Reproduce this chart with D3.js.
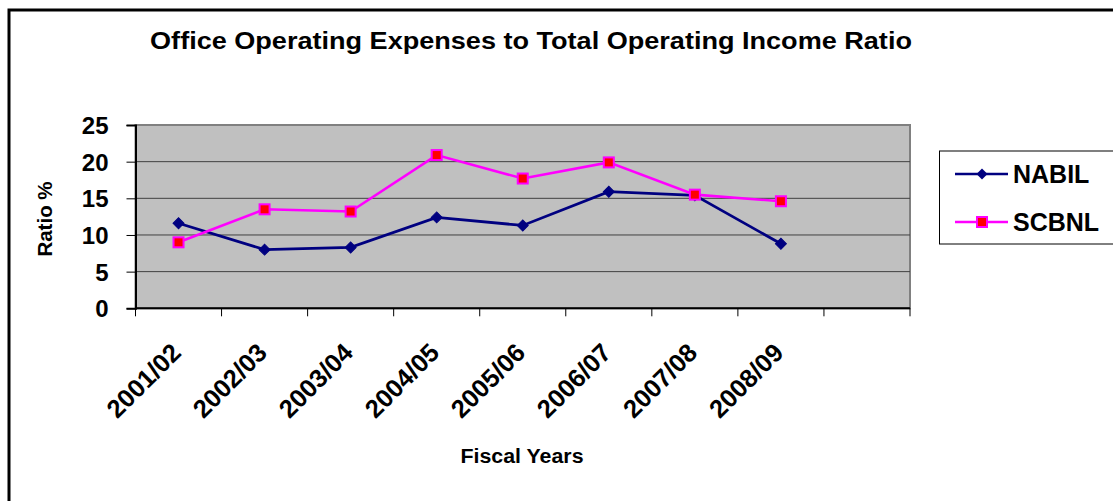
<!DOCTYPE html>
<html>
<head>
<meta charset="utf-8">
<script src="https://cdn.jsdelivr.net/npm/d3@7"></script>
<style>
  html, body { margin: 0; padding: 0; background: #fff; }
  svg { display: block; }
  text { font-family: "Liberation Sans", Arial, Helvetica, sans-serif; font-weight: bold; fill: #000; }
</style>
</head>
<body>
<svg id="chart" width="1113" height="501"></svg>
<script>
const categories = ["2001/02", "2002/03", "2003/04", "2004/05", "2005/06", "2006/07", "2007/08", "2008/09"];
const extraCategory = [""];
const nabil = [11.6, 8.0, 8.3, 12.4, 11.3, 15.9, 15.4, 8.8];
const scbnl = [9.0, 13.5, 13.2, 20.9, 17.7, 19.9, 15.5, 14.6];
const yTicks = [0, 5, 10, 15, 20, 25];
const seriesNames = ["NABIL", "SCBNL"];
const titleText = "Office Operating Expenses to Total Operating Income Ratio";
const xTitle = "Fiscal Years";
const yTitle = "Ratio %";

const svg = d3.select("#chart");
const W = 1113, H = 501;

// outer chart border
svg.append("rect").attr("x", 9).attr("y", 10).attr("width", W + 10).attr("height", H + 10)
  .attr("fill", "#fff").attr("stroke", "#000").attr("stroke-width", 3);

const plot = { left: 135.5, right: 910, top: 125, bottom: 308.3 };

const x = d3.scaleBand().domain(categories.concat(extraCategory)).range([plot.left, plot.right]).padding(0);
const y = d3.scaleLinear().domain([0, 25]).range([plot.bottom, plot.top]);

// plot background
svg.append("rect").attr("x", plot.left).attr("y", plot.top)
  .attr("width", plot.right - plot.left).attr("height", plot.bottom - plot.top)
  .attr("fill", "#C0C0C0").attr("stroke", "#808080").attr("stroke-width", 2);

// gridlines
svg.append("g").selectAll("line").data(yTicks.filter(d => d > 0 && d < 25)).join("line")
  .attr("x1", plot.left).attr("x2", plot.right)
  .attr("y1", d => y(d)).attr("y2", d => y(d))
  .attr("stroke", "#404040").attr("stroke-width", 1);

// y axis
const yAxis = d3.axisLeft(y).tickValues(yTicks).tickSize(9).tickPadding(18).tickFormat(d3.format("d"));
const gy = svg.append("g").attr("transform", `translate(${plot.left},0)`).call(yAxis);
gy.select(".domain").attr("stroke", "#000").attr("stroke-width", 2);
gy.selectAll(".tick line").attr("stroke", "#000");
gy.selectAll(".tick text").attr("font-size", 24).attr("font-family", "Liberation Sans, Arial, sans-serif").attr("font-weight", "bold").attr("fill", "#000").attr("dy", "0.36em");

// x axis with ticks at band boundaries
const xAxisG = svg.append("g").attr("transform", `translate(0,${plot.bottom})`);
xAxisG.append("line").attr("x1", plot.left).attr("x2", plot.right).attr("y1", 0).attr("y2", 0)
  .attr("stroke", "#000").attr("stroke-width", 2);
const boundaries = categories.concat(extraCategory).map(c => x(c)).concat([plot.right]);
xAxisG.selectAll("line.tk").data(boundaries).join("line").attr("class", "tk")
  .attr("x1", d => d).attr("x2", d => d).attr("y1", 0).attr("y2", 8)
  .attr("stroke", "#000").attr("stroke-width", 1);
xAxisG.selectAll("text.lbl").data(categories).join("text").attr("class", "lbl")
  .attr("transform", d => `translate(${x(d) + x.bandwidth() / 2 + 4},${46}) rotate(-45)`)
  .attr("text-anchor", "end")
  .attr("font-size", 25.5)
  .text(d => d);

// titles
svg.append("text").attr("transform", "translate(531,48.5) scale(1.177,1)").attr("text-anchor", "middle").attr("font-size", 23).text(titleText);
svg.append("text").attr("transform", "translate(522,462.5) scale(1.095,1)").attr("text-anchor", "middle").attr("font-size", 19.5).text(xTitle);
svg.append("text").attr("transform", `translate(51.5,219) rotate(-90)`).attr("text-anchor", "middle").attr("font-size", 20.5).text(yTitle);

// lines
const cx = d => x(d) + x.bandwidth() / 2;
const line = d3.line().x(d => cx(d.c)).y(d => y(d.v));
const nabilData = categories.map((c, i) => ({ c, v: nabil[i] }));
const scbnlData = categories.map((c, i) => ({ c, v: scbnl[i] }));

svg.append("path").datum(nabilData).attr("d", line).attr("fill", "none").attr("stroke", "#000080").attr("stroke-width", 2.8);
svg.append("path").datum(scbnlData).attr("d", line).attr("fill", "none").attr("stroke", "#FF00FF").attr("stroke-width", 2.6);

svg.append("g").selectAll("path").data(nabilData).join("path")
  .attr("d", d3.symbol().type(d3.symbolSquare).size(60))
  .attr("transform", d => `translate(${cx(d.c)},${y(d.v)}) rotate(45)`)
  .attr("fill", "#000080").attr("stroke", "#000080").attr("stroke-width", 1);
svg.append("g").selectAll("rect").data(scbnlData).join("rect")
  .attr("x", d => cx(d.c) - 5).attr("y", d => y(d.v) - 5).attr("width", 10).attr("height", 10)
  .attr("fill", "#FF0000").attr("stroke", "#FF00FF").attr("stroke-width", 2);

// legend
const lg = svg.append("g");
lg.append("rect").attr("x", 939.5).attr("y", 151).attr("width", 190).attr("height", 93)
  .attr("fill", "#fff").attr("stroke", "#000").attr("stroke-width", 1);
const colors = ["#000080", "#FF00FF"];
seriesNames.forEach((name, i) => {
  const ly = 174 + i * 48;
  lg.append("line").attr("x1", 955).attr("x2", 1008).attr("y1", ly).attr("y2", ly).attr("stroke", colors[i]).attr("stroke-width", 2.6);
  if (i === 0) {
    lg.append("path").attr("d", d3.symbol().type(d3.symbolSquare).size(60)).attr("transform", `translate(982,${ly}) rotate(45)`).attr("fill", "#000080");
  } else {
    lg.append("rect").attr("x", 982 - 5).attr("y", ly - 5).attr("width", 10).attr("height", 10).attr("fill", "#FF0000").attr("stroke", "#FF00FF").attr("stroke-width", 2);
  }
  lg.append("text").attr("x", 1013).attr("y", ly + 9).attr("font-size", 25).text(name);
});
</script>
</body>
</html>
